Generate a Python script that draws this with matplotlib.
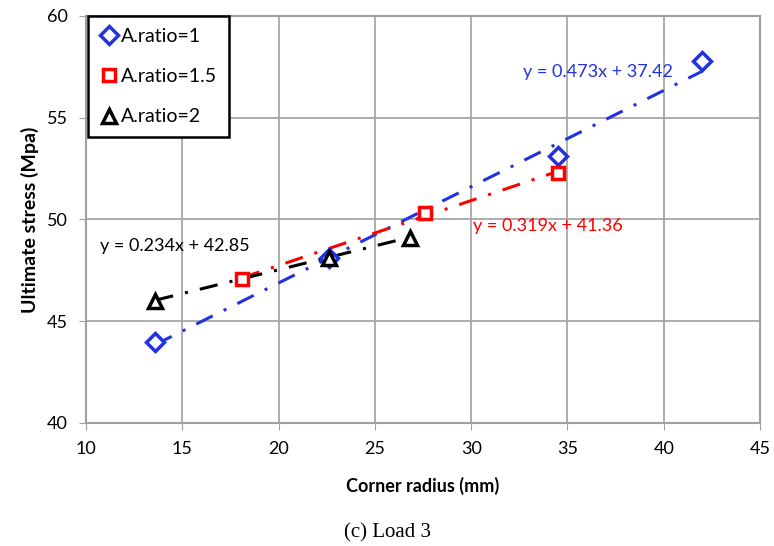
import numpy as np
import matplotlib.pyplot as plt

# data
x_ar1 = [13.6, 22.6, 34.5, 42.0]
y_ar1 = [44.0, 48.1, 53.1, 57.8]
x_ar15 = [18.1, 27.6, 34.5]
y_ar15 = [47.1, 50.3, 52.3]
x_ar2 = [13.6, 22.6, 26.8]
y_ar2 = [46.0, 48.1, 49.1]

labels = ['A.ratio=1', 'A.ratio=1.5', 'A.ratio=2']
slopes = [0.473, 0.319, 0.234]
intercepts = [37.42, 41.36, 42.85]
eq_text = ['y = 0.473x + 37.42', 'y = 0.319x + 41.36', 'y = 0.234x + 42.85']

colors = ['#2233dd', '#ff0000', '#000000']
markers = ['D', 's', '^']

plt.rcParams['font.family'] = ['Lato', 'DejaVu Sans']

fig = plt.figure(figsize=(7.74, 5.46), dpi=100)
ax = fig.add_axes([0.1111, 0.2253, 0.8708, 0.7454])

series = [(x_ar1, y_ar1), (x_ar15, y_ar15), (x_ar2, y_ar2)]
msizes = [9, 9, 10]
for (xs, ys), lab, c, m, ms in zip(series, labels, colors, markers, msizes):
    ax.plot(xs, ys, ls='none', marker=m, ms=ms, mfc='white', mec=c,
            mew=2.5, label=lab, zorder=3)

# linear trendlines
for (xs, ys), a, b, c in zip(series, slopes, intercepts, colors):
    xx = np.array([min(xs), max(xs)])
    ax.plot(xx, a * xx + b, color=c, lw=2.2, ls=(0, (6, 4, 1, 4)), zorder=2)

ax.text(36.6, 57.25, eq_text[0], color=colors[0], fontsize=13, ha='center', va='center')
ax.text(34.0, 49.68, eq_text[1], color=colors[1], fontsize=13, ha='center', va='center')
ax.text(14.6, 48.7, eq_text[2], color=colors[2], fontsize=13, ha='center', va='center')

ax.set_xlim(10, 45)
ax.set_ylim(40, 60)
ax.set_xticks(range(10, 46, 5))
ax.set_yticks(range(40, 61, 5))
ax.grid(True, color='#a0a0a0', lw=1.2)
ax.set_axisbelow(True)
for s in ax.spines.values():
    s.set_color('#a0a0a0')
    s.set_linewidth(1.5)
ax.tick_params(direction='out', length=5, color='#a0a0a0', labelsize=13, pad=8)

ax.set_xlabel('Corner radius (mm)', fontsize=13, fontweight='bold', labelpad=14)
ax.set_ylabel('Ultimate stress (Mpa)', fontsize=14, fontweight='bold', labelpad=6)

leg = ax.legend(loc='upper left', bbox_to_anchor=(0.003, 1.0), fontsize=14,
                handletextpad=0.1, handlelength=1.0, labelspacing=1.2,
                borderaxespad=0.0, borderpad=0.6, fancybox=False, framealpha=1)
leg.get_frame().set_edgecolor('black')
leg.get_frame().set_linewidth(1.8)

fig.text(0.5, 0.015, '(c) Load 3', ha='center', fontsize=15,
         family='Liberation Serif')

fig.savefig('out.png', dpi=100)
